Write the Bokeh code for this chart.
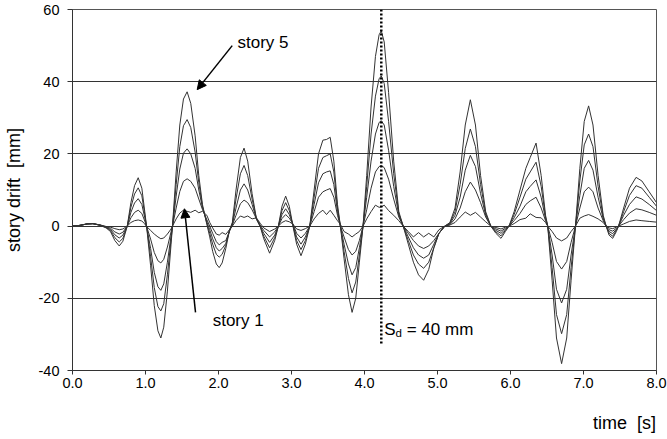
from bokeh.plotting import figure
from bokeh.models import Arrow, NormalHead, FixedTicker, Range1d, NumeralTickFormatter, LinearAxis
from bokeh.core.properties import value
from bokeh.embed import file_html
from bokeh.resources import INLINE

# ---------------- data ----------------
time = [0.00, 0.10, 0.20, 0.28, 0.38, 0.46, 0.52, 0.58, 0.64, 0.69, 0.75, 0.80, 0.85, 0.90, 0.95, 0.99,
        1.02, 1.07, 1.12, 1.17, 1.21, 1.25, 1.30, 1.35, 1.37, 1.42, 1.47, 1.52, 1.57, 1.62, 1.68, 1.73,
        1.78, 1.84, 1.88, 1.92, 1.97, 2.01, 2.05, 2.10, 2.15, 2.19, 2.24, 2.30, 2.35, 2.40, 2.46, 2.52,
        2.57, 2.62, 2.70, 2.77, 2.82, 2.87, 2.92, 2.97, 3.02, 3.07, 3.13, 3.19, 3.25, 3.31, 3.37, 3.43,
        3.48, 3.53, 3.58, 3.63, 3.67, 3.72, 3.78, 3.83, 3.88, 3.93, 3.98, 4.03, 4.09, 4.15, 4.20, 4.23,
        4.27, 4.33, 4.40, 4.47, 4.53, 4.60, 4.67, 4.74, 4.81, 4.88, 4.95, 5.02, 5.10, 5.17, 5.24, 5.31,
        5.38, 5.45, 5.52, 5.59, 5.66, 5.73, 5.80, 5.87, 5.93, 5.98, 6.05, 6.13, 6.21, 6.27, 6.35, 6.42,
        6.48, 6.51, 6.57, 6.63, 6.70, 6.77, 6.83, 6.89, 6.95, 7.01, 7.07, 7.13, 7.20, 7.27, 7.31, 7.35,
        7.40, 7.45, 7.48, 7.55, 7.63, 7.72, 7.80, 7.90, 8.00]

story5 = [0, 0.2, 0.6, 0.7, 0.2, -0.5, -1.5, -4.0, -5.5, -4.2, 0, 6.5, 11.2, 13.4, 10.5, 4.0,
          -1.0, -11, -22, -29, -31, -28, -18, -5, 0, 15, 28, 35.2, 37.2, 34, 25, 14,
          6, 0.5, -3, -7, -10.5, -11.5, -10.2, -6.2, -1.2, 1.0, 10, 19, 21.6, 18, 9, 2,
          0, -3.5, -7.5, -4.0, 0, 5.5, 8.3, 5.5, 0, -5, -8.2, -5, 0, 10, 20, 23.8,
          24.0, 24.6, 18, 6, 0, -9, -19, -23.9, -20, -10, 0, 14, 33, 47, 53, 54.1,
          51, 37, 18, 4, 0, -5, -10, -13.5, -15, -12, -6, -2, 0, 1, 5, 15,
          28, 35, 28, 14, 4, 0, -2, -3.4, -1.5, 0, 4, 10, 16, 19, 23, 14,
          3, 0, -15, -31, -38.1, -31, -15, 0, 16, 29, 33.3, 28, 14, 3, 0, -2.5,
          -3.4, -1.5, 0, 5, 10.5, 13.5, 12.5, 9.5, 6.5]

story4 = [0, 0.2, 0.6, 0.7, 0.2, -0.4, -1.2, -3.2, -4.4, -3.4, 0, 5.2, 8.9, 10.6, 8.4, 3.2,
          -0.8, -8.5, -17, -22.3, -23.5, -21.5, -13.5, -3.7, 0, 11.5, 22, 27.8, 29.5, 27.3, 20.5, 12,
          5.5, 0.8, -2, -5, -7.8, -8.6, -7.8, -5.3, -1.2, 0.8, 7.5, 14.5, 16.8, 14, 7.5, 2,
          0, -2.8, -6.0, -3.2, 0, 4.3, 6.5, 4.3, 0.2, -4, -6.5, -4, 0, 8, 16, 19,
          19.5, 20, 15, 5, 0, -7, -14.5, -18.5, -15.5, -8, 0, 11, 25.5, 36, 40.8, 41.6,
          39.5, 29, 14.5, 3.5, 0, -4, -8, -10.5, -11.7, -10, -6, -2, 0, 0.8, 4, 11.5,
          21.5, 26.9, 22, 11.5, 3.5, 0, -1.6, -2.7, -1.2, 0, 3.2, 8, 13, 15, 17.7, 11,
          2.5, 0, -11.5, -24.5, -29.8, -24.5, -11.5, 0, 12.5, 22.5, 25.5, 22, 11, 2.5, 0, -2,
          -2.8, -1.2, 0, 4, 8.5, 11.2, 10.5, 8, 5.5]

story3 = [0, 0.2, 0.6, 0.7, 0.3, -0.3, -0.9, -2.4, -3.3, -2.5, 0, 3.8, 6.4, 7.6, 6.0, 2.3,
          -0.6, -6.2, -12.8, -16.8, -17.8, -16, -10, -2.7, 0, 8.3, 15.8, 20.2, 21.4, 20, 16, 10,
          5.2, 1.2, -1, -3.5, -6.0, -6.9, -6.2, -4.8, -1.4, 0.5, 5.0, 10, 11.7, 10, 6, 2,
          0, -2.0, -4.5, -2.5, 0, 3.2, 4.8, 3.2, 0.4, -3, -5, -3, 0, 6, 12, 14.5,
          15, 15.3, 11.5, 4, 0, -5, -10.5, -13.5, -11.5, -6, 0, 8, 18, 25.5, 28.7, 29.2,
          28, 21, 11, 3, 0, -3, -6, -8, -8.9, -8, -5, -2, 0, 0.6, 3, 8,
          15.5, 19.6, 16.5, 9, 3, 0, -1.2, -2, -0.9, 0, 2.3, 5.5, 9.5, 11, 12.8, 8,
          2, 0, -8, -17.5, -21.3, -17.5, -8, 0, 8.5, 16, 18.2, 15.5, 8, 2, 0, -1.5,
          -2.1, -0.9, 0, 3, 6, 8.1, 7.5, 6, 4.3]

story2 = [0, 0.2, 0.6, 0.7, 0.3, -0.2, -0.6, -1.6, -2.2, -1.7, 0, 2.3, 3.8, 4.4, 3.5, 1.4,
          -0.4, -3.6, -7.3, -9.6, -10.2, -9.2, -5.8, -1.6, 0, 5.0, 9.6, 12.4, 13.1, 12.4, 10.5, 7.5,
          4.6, 1.8, 0, -2, -4.3, -5.2, -4.5, -4.0, -1.4, 0.3, 3.0, 6.2, 7.2, 6.5, 4.5, 2,
          0.3, -1.2, -3.0, -1.6, 0, 2.1, 3.2, 2.2, 0.6, -2, -3.3, -2, 0, 4, 8, 9.5,
          10, 10.4, 8, 3, 0, -3, -6.5, -8, -7, -4, 0, 4.5, 10.5, 15, 16.5, 16.8,
          16.2, 13, 7.5, 2.5, 0, -2, -4, -5.5, -6.2, -5.5, -4, -2, 0, 0.4, 2, 5,
          9.5, 12.2, 10, 6.5, 2.5, 0, -0.8, -1.4, -0.6, 0, 1.5, 3.5, 6, 7, 8, 5,
          1.5, 0, -4.5, -9.8, -11.9, -9.8, -4.5, 0, 5, 9.5, 10.8, 9.5, 5, 1.5, 0, -1,
          -1.4, -0.6, 0, 1.8, 3.6, 4.8, 4.5, 3.8, 3.0]

story1 = [0, 0.2, 0.6, 0.6, 0.3, -0.1, -0.3, -0.7, -1.0, -0.8, 0, 1.0, 1.5, 1.7, 1.4, 0.6,
          -0.2, -1.2, -2.2, -3.0, -3.5, -3.3, -2.2, -0.8, 0, 2.0, 3.6, 4.4, 4.1, 3.8, 4.4, 3.7,
          4.1, 3.0, 1.0, -0.5, -2.2, -2.5, -1.8, -2.3, -1.0, 0, 1.5, 2.8, 2.4, 2.8, 2.0, 2.3,
          0.8, -0.5, -1.5, -0.8, 0, 1.0, 1.5, 1.2, 0.5, -0.8, -1.2, -0.7, 0, 2.0, 3.5, 4.4,
          3.2, 4.4, 3.0, 1.5, 0.5, -1.5, -2.2, -3.0, -2.2, -1.5, 0, 2.0, 4.0, 5.8, 5.2, 5.3,
          5.8, 4.3, 3.0, 1.5, 0, -1.5, -3.0, -1.8, -3.0, -2.0, -3.0, -1.0, 0, 0.3, 1.0, 2.5,
          3.9, 3.0, 3.8, 2.5, 1.2, 0, -0.4, -0.8, -0.3, 0, 0.7, 1.8, 2.2, 3.4, 2.4, 2.3,
          1.0, 0, -1.5, -3.3, -4.1, -3.3, -1.5, 0, 2.2, 2.8, 3.2, 2.7, 2.0, 1.0, 0, -0.5,
          -0.7, -0.3, 0, 0.6, 1.3, 1.7, 1.5, 1.3, 1.1]

x_ticks = [0, 1, 2, 3, 4, 5, 6, 7, 8]
y_ticks = [-40, -20, 0, 20, 40, 60]
y_tick_labels = ["-40", "-20", "0", "20", "40", "60"]
grid_values = [-20, 0, 20, 40]

# S_d marker line
sd_time = [4.23]
sd_top = [60]
sd_bottom = [-32.8]

FONT = "Liberation Sans"
LINE = "#333333"
NB = "\u00a0"

p = figure(width=667, height=439, output_backend="svg", toolbar_location=None,
           x_range=Range1d(0, 8), y_range=Range1d(-40, 60),
           min_border_left=72, min_border_right=11, min_border_top=9, min_border_bottom=69,
           background_fill_color="white", border_fill_color="white")

p.outline_line_color = "#555555"
p.outline_line_width = 1

# axes
p.xaxis.ticker = FixedTicker(ticks=x_ticks)
p.xaxis.formatter = NumeralTickFormatter(format="0.0")
p.yaxis.ticker = FixedTicker(ticks=y_ticks)
p.yaxis.major_label_overrides = {t: s for t, s in zip(y_ticks, y_tick_labels)}
for ax in (p.xaxis[0], p.yaxis[0]):
    ax.axis_line_color = "#333333"
    ax.major_tick_line_color = "#333333"
    ax.major_tick_in = 0
    ax.minor_tick_in = 0
    ax.minor_tick_out = 0
    ax.major_label_text_font = FONT
    ax.major_label_text_font_size = "14.5px"
    ax.major_label_text_color = "black"
    ax.axis_label_text_font = FONT
    ax.axis_label_text_font_size = "18px"
    ax.axis_label_text_font_style = "normal"
    ax.axis_label_text_color = "black"
p.xaxis.major_tick_out = 4
p.xaxis.major_label_standoff = 3
p.yaxis.major_tick_out = 5
p.yaxis.major_label_standoff = 8
p.yaxis.axis_label = "story drift" + NB + NB + "[mm]"
p.yaxis.axis_label_standoff = 12

# x-axis title at the lower right: a centred label on an unticked axis, padded on the
# left with non-breaking spaces so that its visible end meets the right edge of the frame
xlabel_axis = LinearAxis(ticker=FixedTicker(ticks=[]),
                         axis_line_color=None, major_tick_line_color=None,
                         minor_tick_line_color=None, major_tick_out=0, major_tick_in=0,
                         minor_tick_out=0, minor_tick_in=0, major_label_standoff=0,
                         major_label_text_font_size="0px",
                         axis_label=NB * 104 + "time" + NB + NB + "[s]", axis_label_standoff=22,
                         axis_label_text_font=FONT, axis_label_text_font_size="18px",
                         axis_label_text_font_style="normal", axis_label_text_color="black")
p.add_layout(xlabel_axis, "below")

p.xgrid.visible = False
p.ygrid.ticker = FixedTicker(ticks=grid_values)
p.ygrid.grid_line_color = "#333333"
p.ygrid.grid_line_width = 1

# data lines
for series in (story1, story2, story3, story4, story5):
    p.line(time, series, line_color=LINE, line_width=1)

# S_d dotted line
p.segment(x0=sd_time, y0=sd_top, x1=sd_time, y1=sd_bottom, line_color="black",
          line_width=2.5, line_dash="2 2")

# annotations
txt = dict(text_font=value(FONT), text_baseline="middle", text_align="left", text_color="black")
p.text(x=[2.26], y=[50.9], text=["story 5"], text_font_size="17px", **txt)
p.text(x=[1.92], y=[-26.1], text=["story 1"], text_font_size="17px", **txt)
p.text(x=[4.27], y=[-28.6], text=["S"], text_font_size="17px", **txt)
p.text(x=[4.27], y=[-28.6], text=["d"], text_font_size="11.5px", x_offset=11.3, y_offset=4, **txt)
p.text(x=[4.27], y=[-28.6], text=["= 40 mm"], text_font_size="17px", x_offset=22.5, **txt)

p.add_layout(Arrow(x_start=2.188, y_start=50.0, x_end=1.708, y_end=37.8, line_width=1.5,
                   line_color="black",
                   end=NormalHead(size=9, fill_color="black", line_color="black")))
p.add_layout(Arrow(x_start=1.685, y_start=-23.9, x_end=1.534, y_end=4.8, line_width=1.5,
                   line_color="black",
                   end=NormalHead(size=9, fill_color="black", line_color="black")))

open("out.html", "w").write(file_html(p, INLINE))
